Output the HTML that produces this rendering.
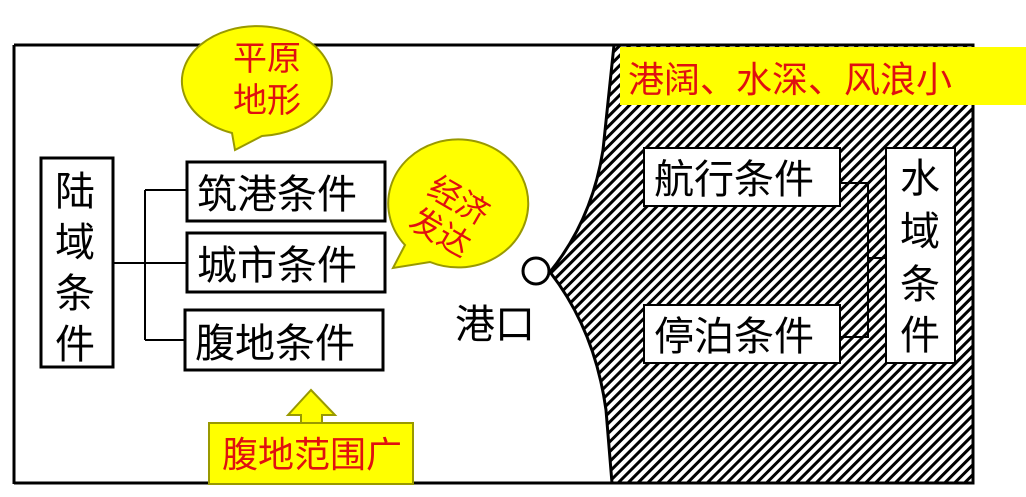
<!DOCTYPE html>
<html><head><meta charset="utf-8"><style>
body{margin:0;width:1026px;height:497px;background:#fff;overflow:hidden;font-family:"Liberation Sans","Noto Sans CJK SC",sans-serif}
svg{position:absolute;left:0;top:0}
text{font-family:"Liberation Sans","Noto Sans CJK SC",sans-serif}
</style></head><body>
<svg width="1026" height="497" viewBox="0 0 1026 497">
<defs>
<pattern id="h" width="7" height="7" patternUnits="userSpaceOnUse" patternTransform="rotate(45)">
<rect width="7" height="7" fill="#fff"/><rect width="3" height="7" fill="#000"/>
</pattern>
</defs>
<!-- outer frame lines -->
<line x1="14" y1="45" x2="614" y2="45" stroke="#000" stroke-width="3"/>
<line x1="14" y1="45" x2="14" y2="484" stroke="#000" stroke-width="3"/>
<line x1="14" y1="483" x2="973" y2="483" stroke="#000" stroke-width="3"/>
<!-- hatched water -->
<path d="M614,45 L973,45 L973,483 L612,483 L606,410 Q595,330 550,272 Q592,220 603,150 Z" fill="url(#h)" stroke="#000" stroke-width="3"/>
<circle cx="536" cy="271" r="13" fill="#fff" stroke="#000" stroke-width="3"/>
<!-- yellow banner -->
<rect x="620" y="47" width="406" height="58" fill="#ffff00"/>
<text x="628" y="92" font-size="36" fill="#e01010">港阔、水深、风浪小</text>
<!-- water boxes -->
<rect x="644" y="148" width="196" height="58" fill="#fff" stroke="#000" stroke-width="2"/>
<text x="654" y="193" font-size="40">航行条件</text>
<rect x="644" y="305" width="196" height="58" fill="#fff" stroke="#000" stroke-width="2"/>
<text x="654" y="350" font-size="40">停泊条件</text>
<rect x="886" y="148" width="69" height="215" fill="#fff" stroke="#000" stroke-width="2"/>
<text font-size="40" x="900" y="192">水</text>
<text font-size="40" x="900" y="245">域</text>
<text font-size="40" x="900" y="298">条</text>
<text font-size="40" x="900" y="349">件</text>
<path d="M840,183 H868 V337 H840 M868,258 H886" fill="none" stroke="#000" stroke-width="2"/>
<!-- land boxes -->
<rect x="41" y="158" width="72" height="209" fill="#fff" stroke="#000" stroke-width="3"/>
<text font-size="40" x="55" y="205">陆</text>
<text font-size="40" x="55" y="256">域</text>
<text font-size="40" x="55" y="307">条</text>
<text font-size="40" x="55" y="358">件</text>
<rect x="187" y="162" width="198" height="59" fill="#fff" stroke="#000" stroke-width="3"/>
<text x="197" y="208" font-size="40">筑港条件</text>
<rect x="187" y="233" width="198" height="59" fill="#fff" stroke="#000" stroke-width="3"/>
<text x="197" y="279" font-size="40">城市条件</text>
<rect x="185" y="310" width="198" height="60" fill="#fff" stroke="#000" stroke-width="3"/>
<text x="195" y="357" font-size="40">腹地条件</text>
<path d="M113,263 H187 M145,190 V340 M145,190 H187 M145,340 H185" fill="none" stroke="#000" stroke-width="2"/>
<text x="455" y="338" font-size="40">港口</text>
<!-- bubble 1 -->
<path d="M232,133 A75,55 0 1 1 262,136 L235,150 Z" fill="#ffff00" stroke="#999900" stroke-width="2"/>
<text x="233" y="70" font-size="34" fill="#e01010">平原</text>
<text x="233" y="112" font-size="34" fill="#e01010">地形</text>
<!-- bubble 2 -->
<path d="M405,245 A70,64 0 1 1 430,262 L393,268 Z" fill="#ffff00" stroke="#999900" stroke-width="2"/>
<g transform="rotate(30 448 215)" fill="#e01010" font-size="32">
<text x="418" y="208">经济</text>
<text x="418" y="245">发达</text>
</g>
<!-- arrow + box -->
<path d="M311,390 L335,415 L322,415 L322,424 L301,424 L301,415 L288,415 Z" fill="#ffff00" stroke="#999900" stroke-width="2"/>
<rect x="209" y="423" width="204" height="61" fill="#ffff00" stroke="#999900" stroke-width="2"/>
<text x="222" y="467" font-size="36" fill="#e01010">腹地范围广</text>
</svg>
</body></html>
